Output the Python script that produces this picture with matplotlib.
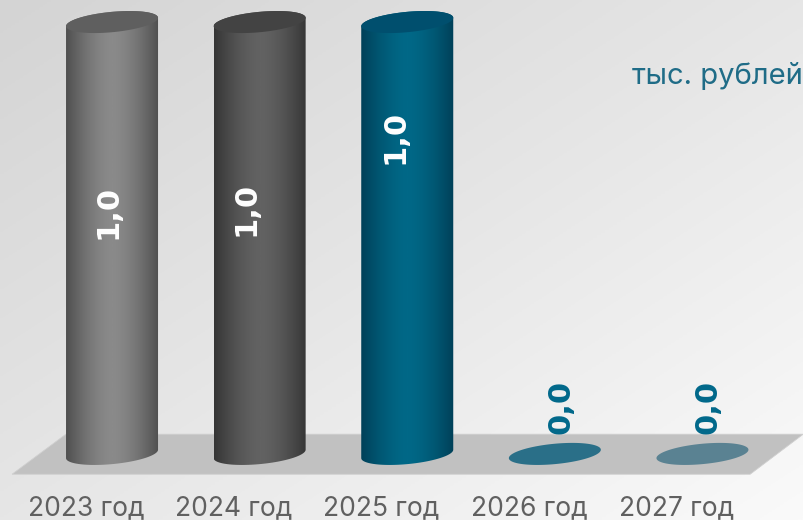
import numpy as np
import matplotlib.pyplot as plt
from matplotlib.colors import LinearSegmentedColormap
from matplotlib.patches import Polygon, PathPatch
from matplotlib.path import Path

years = ["2023 год", "2024 год", "2025 год", "2026 год", "2027 год"]
values = [1.0, 1.0, 1.0, 0.0, 0.0]
labels = ["1,0", "1,0", "1,0", "0,0", "0,0"]
label_y = [0.56, 0.567, 0.735, 0.109, 0.109]
label_dx = [-0.03, -0.09, -0.085, 0.04, 0.04]
edge_cols = ["#4f4f4f", "#353535", "#004058", "#2a6f88", "#5a8292"]
mid_cols = ["#8a8a8a", "#626262", "#006887", "#2a6f88", "#5a8292"]
top_cols = ["#5f5f5f", "#434343", "#004f6e", "#2a6f88", "#5a8292"]
unit = "тыс. рублей"

plt.rcParams['font.family'] = ['Inter', 'DejaVu Sans']

fig = plt.figure(figsize=(8.04, 5.2), dpi=100)
ax = fig.add_axes([0, 0, 1, 1])
ax.axis('off')

# background, lighter to the bottom right
gx, gy = np.meshgrid(np.linspace(0, 1, 200), np.linspace(0, 1, 200))
bg = LinearSegmentedColormap.from_list('bg', ["#d4d4d4", "#e6e6e6", "#fafafa"])
ax.imshow((gx + (1 - gy)) / 2, cmap=bg, extent=[0, 1, 1, 0], transform=ax.transAxes,
          aspect='auto', zorder=0)

# floor
ax.add_patch(Polygon([[0.015, 0.088], [0.082, 0.165], [0.999, 0.165], [0.933, 0.088]],
                     transform=ax.transAxes, fc="#c1c1c1", ec="#cfcfcf", lw=0.6, zorder=1))

a = 46 / 147.6     # half width in x units
b = 10.2 / 432     # half height of ellipse in value units
k = 4.2 / 432      # tilt
t = np.linspace(0, 2 * np.pi, 121)


def ellipse(cx, cy, tt):
    return np.column_stack([cx + a * np.cos(tt), cy + b * np.sin(tt) + k * np.cos(tt)])


for i, v in enumerate(values):
    if v > 0:
        low = ellipse(i, 0, np.linspace(0, -np.pi, 60))
        up = ellipse(i, v, np.linspace(np.pi, 0, 60))
        pts = np.vstack([low, up, low[:1]])
        body = PathPatch(Path(pts), fc='none', ec='none', zorder=2)
        ax.add_patch(body)
        cm = LinearSegmentedColormap.from_list('c', [edge_cols[i], mid_cols[i]])
        grad = 1 - np.abs(np.linspace(-1, 1, 200)) ** 1.6
        im = ax.imshow(grad[None, :], cmap=cm, extent=[i - a, i + a, -0.1, v + 0.1],
                       aspect='auto', zorder=2, vmin=0, vmax=1)
        im.set_clip_path(body)
    ax.fill(*ellipse(i, v, t).T, color=top_cols[i], lw=0, zorder=3)
    tc = "white" if v > 0 else "#00688a"
    ax.text(i + label_dx[i], label_y[i], labels[i], rotation=90, ha='center', va='center',
            color=tc, fontsize=22, fontweight='bold', family='DejaVu Sans', zorder=4)
    ax.text(i - 0.176, -0.125, years[i], ha='center', va='center', color="#606060",
            fontsize=19, zorder=4)

ax.text(0.9985, 0.853, unit, transform=ax.transAxes, ha='right', va='center',
        color="#1f6c87", fontsize=21, zorder=4)

ax.set_xlim(-0.759, 4.688)
ax.set_ylim(-0.153, 1.051)
fig.savefig("out.png", dpi=100)
